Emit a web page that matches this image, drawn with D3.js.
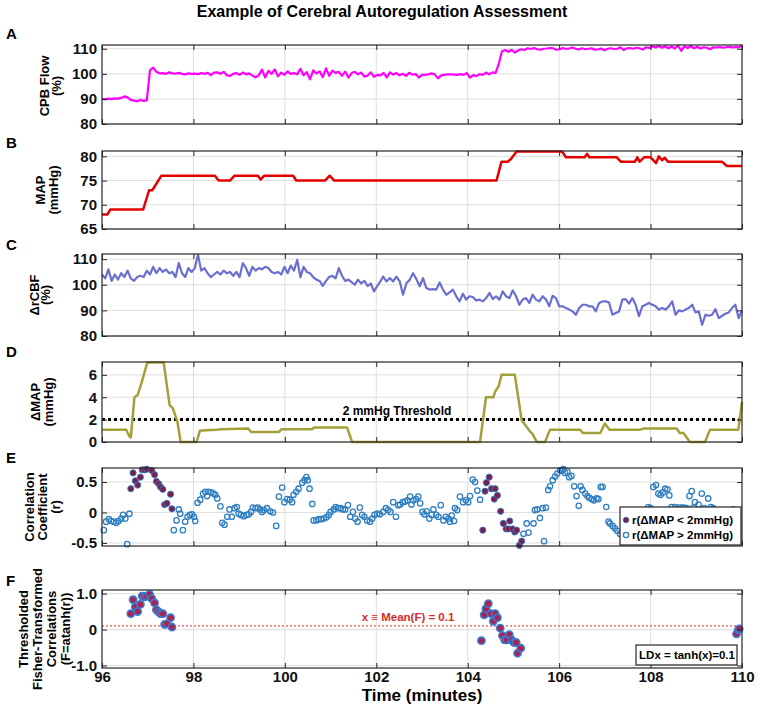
<!DOCTYPE html>
<html><head><meta charset="utf-8">
<script src="https://cdn.jsdelivr.net/npm/d3@7"></script>
<style>
body{margin:0;background:#fff}
text{font-family:"Liberation Sans",Arial,sans-serif;font-weight:bold}
</style>
</head><body><svg id="c" width="758" height="714"></svg>
<script>
// ---------------- DATA ----------------
const xTicks = [96,98,100,102,104,106,108,110];
const xTickLabels = ["96","98","100","102","104","106","108","110"];
const flowTicks = [80,90,100,110];
const mapTicks = [65,70,75,80];
const cbfTicks = [80,90,100,110];
const dmapTicks = [0,2,4,6];
const rTicks = [-0.5,0,0.5];
const rTickLabels = ["-0.5","0","0.5"];
const fTicks = [-1,0,1];
const fTickLabels = ["-1.0","0","1.0"];

// A: CPB flow (%), evenly sampled 96 -> 110 min
const cpbFlow = [
90,89.8,90.1,89.9,90.2,90.1,90.4,91,90.6,89.6,89.3,89.1,89.6,89.2,89.4,
101.5,102.5,100.8,100.2,100.3,100,100.6,100.2,100.1,100.4,100,99.8,100.2,100,
100.1,99.9,100.3,100,100.4,99.5,100.5,100.6,100,100.8,99.4,99.2,100,100.3,99.6,
100.5,99.8,100.2,99.3,98.6,99.5,101.7,98.5,101.2,100,101.8,99,100.5,99.6,101,
100,100.3,99.8,102,99.4,100.7,97.8,101.4,100.2,101,98.7,102.2,99.2,101.3,100.4,
100.8,99.2,100.9,98.5,100.3,100.8,99.8,100.5,98.9,99.3,100.6,98.8,99.6,99.4,100.4,
98.6,100.6,99.7,100.3,99.4,100,99.2,100.4,99.7,99.9,98.5,99.6,99.6,99.8,100.2,
99.7,98.2,99.4,99.6,99.8,99.8,99.7,99.6,99.9,99.6,100.3,98.5,99.5,99.1,99.9,
99.6,100.5,99.8,100.6,100.4,104,109,109.5,108.8,109.6,108.5,109.3,109.8,109.5,110.2,
109.9,110.3,109.8,109.6,110,110.1,110.3,110.2,109.6,109.8,110.3,109.9,110.1,110.5,110,
109.7,110.2,109.8,110,110.2,109.6,109.8,110.1,109.4,110,110.2,109.9,110,110.6,109.5,
110.2,110.3,110,110.4,110.2,109.7,110.6,110.3,111,110.5,111.2,110.4,111,110.2,110.9,
110.1,111.3,109.2,111,110.3,111.1,110.2,110.8,110.1,110.6,110.4,109.8,110.6,110.5,110.7,
110.4,110.6,110.8,110.5,110.7,110.6,111.3];

// B: MAP (mmHg) breakpoints
const mapTimes = [96.0,96.12,96.18,96.9,97.03,97.1,97.3,98.47,98.55,98.8,98.9,99.41,99.47,99.55,100.18,100.25,100.88,100.98,101.08,
104.63,104.74,104.88,104.95,105.07,106.06,106.15,106.56,106.61,106.66,107.26,107.35,107.66,107.71,107.76,107.86,108.0,108.12,108.18,108.25,108.31,108.38,109.56,109.67,110.0];
const mapValues = [68,68,69,69,73,73,76,76,75,75,76,76,75.2,76,76,75,75,76,75,
75,78.9,78.9,79.5,81,81,79.8,79.8,80.5,79.8,79.8,78.9,78.9,79.8,78.9,79.8,79.8,78.6,80,79.2,79.7,78.9,78.9,78,78];

// C: delta rCBF (%), segment 1 (96 -> 102.09) and segment 2 (102.15 -> 110), evenly sampled
const rcbfSeg1 = [
104,102.5,106,101.5,104,102,104.5,103,105.5,102.5,101.5,103,103.5,103,105.5,104,107,104.5,106.5,105,
106,104.5,105,103,108.5,104.5,103,106.5,105,106.5,111.7,105.5,106.5,104.5,103,104,105,104,105.5,104.5,
105,103.5,105,103,108.4,106.5,103.5,107,105.5,106.5,106,107,106.5,105,104.5,105,104,107,104.5,107.5,
105.5,109.7,103,107,105,104.5,103,102,101.5,99.6,101.5,103,103.5,102.5,106.5,103.5,101.5,102,101,100,
102,100.5,101.5,99.5,100.5,97.4,99.5,101.3];
const rcbfSeg2 = [
103.2,101.3,102.6,101.3,103.2,101.3,96.1,100.6,101.9,104.5,102.2,99.4,102.6,98.7,98.1,98.3,98.1,100.9,98.1,96.1,
97.0,98.1,95.5,93.5,96.5,94.2,95.5,95.2,93.9,94.2,93.5,94.8,96.8,94.4,95.5,94.2,97.4,95.5,94.8,97.8,
95.5,92.2,94.2,94.8,92.9,96.1,94.2,93.5,95.5,94.2,91.6,95.7,94.8,91.6,91.6,90.9,90.3,89.6,88.3,90.9,
92.2,92.2,91.6,91.6,89.6,92.9,93.5,93.5,93.1,88.3,89.0,89.6,94.2,94.4,92.6,94.8,92.2,87.7,91.6,92.2,
92.9,92.2,91.6,90.3,90.9,90.3,91.6,93.5,88.3,90.0,89.6,90.3,90.9,92.2,89.2,89.6,84.4,88.3,87.9,88.3,
90.5,87.0,87.9,88.7,89.2,90.9,92.2,87.0,90.0];

// D: delta MAP (mmHg) breakpoints
const dmapTimes = [96.0,96.53,96.6,96.63,96.71,96.78,96.88,96.99,97.35,97.42,97.48,97.55,97.65,97.72,98.07,98.14,98.26,98.52,98.6,99.2,99.26,99.87,99.93,100.6,100.64,101.36,101.47,
104.27,104.4,104.56,104.6,104.68,104.74,105.03,105.18,105.36,105.42,105.51,105.69,105.8,106.46,106.52,106.9,107.0,107.1,107.77,107.84,108.57,108.64,108.72,108.86,109.19,109.3,109.92,110.0];
const dmapValues = [1.1,1.1,0.5,0.4,4.0,4.2,5.5,7.1,7.1,5.0,3.3,3.0,1.8,0,0,1.0,1.05,1.1,1.15,1.2,0.9,0.9,1.15,1.15,1.3,1.3,0,
0,4.0,4.0,4.5,5.0,6.0,6.0,1.95,0.96,0.7,0,0,1.1,1.1,0.8,0.8,1.65,1.1,1.1,1.2,1.2,0.8,0.8,0,0,1.1,1.1,3.6];
const thresholdValue = 2;

// E: correlation coefficient r
const rLowTimes = [96.63,96.68,96.73,96.78,96.84,96.88,96.93,96.98,97.09,97.15,97.19,97.24,97.28,97.33,97.37,97.42,97.5,97.53,
104.33,104.38,104.41,104.47,104.52,104.58,104.6,104.65,104.72,104.78,104.84,104.89,104.92,104.98,105.03,105.07,105.13,105.18];
const rLowValues = [0.39,0.65,0.52,0.45,0.58,0.70,0.70,0.71,0.69,0.62,0.51,0.47,0.42,0.38,0.13,0.15,0.30,0.06,
-0.29,0.35,0.49,0.58,0.39,0.22,0.39,0.28,0.02,-0.18,-0.27,-0.27,-0.14,-0.27,-0.32,-0.29,-0.54,-0.47];
const rHighTimes = [96.04,96.09,96.15,96.2,96.26,96.31,96.36,96.42,96.46,96.51,96.55,96.6,
97.57,97.63,97.68,97.71,97.77,97.82,97.87,97.92,97.97,98.01,98.04,98.09,98.15,98.21,98.26,98.3,98.33,98.39,98.44,98.48,98.52,98.59,98.63,98.68,98.74,98.79,98.84,98.9,98.95,98.99,
99.04,99.1,99.16,99.21,99.26,99.3,99.36,99.41,99.46,99.5,99.54,99.61,99.68,99.74,99.81,99.87,99.94,99.99,
100.05,100.11,100.16,100.19,100.25,100.3,100.38,100.43,100.47,100.5,100.54,100.6,100.63,100.69,100.74,100.79,100.85,100.91,100.96,101.0,101.07,101.11,101.16,101.22,101.27,101.32,101.38,101.43,101.49,101.54,101.59,101.64,101.69,101.74,101.8,101.86,101.91,101.96,102.02,
102.08,102.15,102.21,102.26,102.31,102.37,102.43,102.48,102.52,102.58,102.63,102.68,102.74,102.77,102.81,102.87,102.92,102.96,103.01,103.05,103.1,103.16,103.21,103.25,103.31,103.36,103.41,103.47,103.52,103.58,103.61,103.65,103.7,103.72,103.77,103.83,103.9,103.96,
104.01,104.05,104.11,104.16,104.21,104.27,105.22,105.29,105.33,105.44,105.47,105.52,105.58,105.64,105.67,105.71,105.76,105.8,105.86,105.91,105.96,
106.02,106.06,106.09,106.13,106.18,106.22,106.27,106.33,106.38,106.43,106.47,106.51,106.57,106.62,106.66,106.71,106.76,106.82,106.86,106.91,106.95,
107.03,107.08,107.11,107.17,107.22,107.27,107.33,107.4,107.5,107.6,107.7,107.8,107.95,
108.0,108.06,108.12,108.17,108.22,108.27,108.32,108.37,108.41,108.46,108.53,108.61,108.68,108.73,108.79,108.85,108.9,108.94,108.97,
109.05,109.12,109.17,109.26,109.32,109.37,109.81];
const rHighValues = [-0.29,-0.15,-0.11,-0.14,-0.15,-0.17,-0.14,-0.10,-0.04,-0.10,-0.52,-0.02,
-0.29,-0.13,0.05,-0.02,-0.29,-0.15,-0.07,-0.04,-0.03,-0.07,-0.14,0.16,0.21,0.31,0.34,0.27,0.34,0.33,0.31,0.29,0.23,0.10,-0.17,-0.20,-0.07,0.05,-0.07,0.07,0.09,-0.02,
-0.04,-0.06,-0.04,-0.03,0.01,0.08,0.07,0.08,0.05,0.01,0.04,0.07,0.02,0.00,-0.22,0.26,0.41,0.17,
0.22,0.21,0.17,0.29,0.34,0.39,0.49,0.53,0.58,0.53,0.39,0.14,-0.13,-0.13,-0.11,-0.11,-0.10,-0.08,-0.04,0.01,0.05,0.09,0.07,0.07,0.05,0.05,0.12,-0.07,0.01,-0.10,-0.15,0.08,-0.04,-0.07,-0.13,-0.15,-0.10,-0.04,-0.02,
-0.03,0.01,0.07,0.04,0.01,0.17,-0.07,0.12,0.13,0.17,0.18,0.20,0.26,0.13,0.20,0.22,0.26,0.15,0.01,-0.03,0.02,-0.10,-0.04,0.05,-0.04,-0.07,0.12,-0.13,-0.07,-0.10,-0.15,-0.05,-0.14,0.07,0.04,0.26,0.17,0.20,
0.17,0.27,0.54,0.50,0.36,0.21,-0.35,-0.18,-0.33,-0.18,0.04,0.05,-0.09,0.07,-0.47,0.08,0.37,0.43,0.53,0.59,0.64,
0.69,0.69,0.71,0.65,0.67,0.58,0.60,0.43,0.27,0.11,0.43,0.37,0.31,0.27,0.24,0.22,0.20,0.23,0.22,0.42,0.42,
0.09,-0.15,-0.18,-0.22,-0.26,-0.30,-0.35,-0.38,-0.30,-0.22,-0.12,-0.04,0.09,
0.07,0.42,0.45,0.31,0.29,0.33,0.39,0.38,0.28,0.09,0.09,0.08,0.08,0.08,0.07,0.27,0.35,0.08,0.17,
0.13,0.31,0.07,0.23,0.09,0.07,0.05];

// F: thresholded Fisher-transformed correlations
const fTimes = [96.63,96.68,96.73,96.78,96.84,96.88,96.93,96.98,97.04,97.09,97.15,97.19,97.24,97.28,97.33,97.37,97.42,97.5,97.53,
104.3,104.36,104.4,104.45,104.51,104.56,104.6,104.65,104.71,104.76,104.81,104.85,104.91,104.96,105.01,105.06,105.09,105.16,
109.88,109.92,109.94];
const fValues = [0.44,0.83,0.63,0.50,0.70,0.93,0.91,0.93,0.98,0.86,0.74,0.55,0.49,0.44,0.44,0.14,0.16,0.33,0.07,
-0.31,0.41,0.58,0.72,0.44,0.23,0.44,0.33,0.04,-0.17,-0.29,-0.29,-0.14,-0.29,-0.36,-0.36,-0.66,-0.52,
-0.12,-0.01,0.02];
const meanF = 0.1;

// ---------------- DRAWING ----------------
const svg = d3.select("#c");
const L = 102, R = 742;
const x = d3.scaleLinear().domain([96,110]).range([L,R]);

svg.append("text").attr("x",382).attr("y",17).attr("text-anchor","middle")
  .attr("font-size",16).text("Example of Cerebral Autoregulation Assessment");

function makePanel(top,bottom,domain,ticks){
  const y = d3.scaleLinear().domain(domain).range([bottom,top]);
  const g = svg.append("g");
  g.append("g").selectAll("line").data(xTicks.slice(1,-1)).join("line")
    .attr("x1",d=>x(d)).attr("x2",d=>x(d)).attr("y1",top).attr("y2",bottom)
    .attr("stroke","#dedede").attr("stroke-width",1);
  g.append("g").selectAll("line").data(ticks).join("line")
    .attr("x1",L).attr("x2",R).attr("y1",d=>y(d)).attr("y2",d=>y(d))
    .attr("stroke","#dedede").attr("stroke-width",1);
  return {y,top,bottom,g:svg.append("g")};
}
function frame(p,ticks,labels,showX){
  const g = svg.append("g");
  const ax = d3.axisLeft(p.y).tickValues(ticks).tickSize(-5).tickPadding(5)
     .tickFormat((d,i)=>labels[i]);
  g.append("g").attr("transform",`translate(${L},0)`).call(ax)
    .call(s=>s.select(".domain").remove())
    .call(s=>s.selectAll("line").attr("stroke","#262626"))
    .call(s=>s.selectAll("text").attr("font-size",15).attr("fill","#111")
      .attr("font-family",'"Liberation Sans",Arial,sans-serif'));
  g.append("g").attr("transform",`translate(${R},0)`)
    .call(d3.axisRight(p.y).tickValues(ticks).tickSize(-5).tickFormat(""))
    .call(s=>s.select(".domain").remove())
    .call(s=>s.selectAll("line").attr("stroke","#262626"));
  g.append("g").attr("transform",`translate(0,${p.top})`)
    .call(d3.axisTop(x).tickValues(xTicks).tickSize(-5).tickFormat(""))
    .call(s=>s.select(".domain").remove())
    .call(s=>s.selectAll("line").attr("stroke","#262626"));
  g.append("g").attr("transform",`translate(0,${p.bottom})`)
    .call(d3.axisBottom(x).tickValues(xTicks).tickSize(-5).tickPadding(3)
      .tickFormat((d,i)=>showX?xTickLabels[i]:""))
    .call(s=>s.select(".domain").remove())
    .call(s=>s.selectAll("line").attr("stroke","#262626"))
    .call(s=>s.selectAll("text").attr("font-size",15).attr("fill","#111")
      .attr("font-family",'"Liberation Sans",Arial,sans-serif'));
  g.append("rect").attr("x",L).attr("y",p.top).attr("width",R-L).attr("height",p.bottom-p.top)
    .attr("fill","none").attr("stroke","#262626").attr("stroke-width",1.2);
}
function ylabel(lines,baseX,cy,step){
  const n = lines.length;
  lines.forEach((t,i)=>{
    svg.append("text").attr("transform",`translate(${baseX - (n-1-i)*step},${cy}) rotate(-90)`)
      .attr("text-anchor","middle").attr("font-size",13).text(t);
  });
}
function letter(t,y){ svg.append("text").attr("x",6).attr("y",y).attr("font-size",15).text(t); }

// Panel A
const pA = makePanel(45,124,[80,111.5],flowTicks);
pA.g.append("path").datum(cpbFlow)
  .attr("d",d3.line().x((d,i)=>x(96+14*i/(cpbFlow.length-1))).y(d=>pA.y(d)))
  .attr("fill","none").attr("stroke","#ff00ff").attr("stroke-width",2.2).attr("stroke-linejoin","round");
frame(pA,flowTicks,flowTicks.map(String),false);
letter("A",39); ylabel(["CPB Flow","(%)"],61,86,12);

// Panel B
const pB = makePanel(151,229,[65,81.1],mapTicks);
pB.g.append("path").datum(mapTimes.map((t,i)=>[t,mapValues[i]]))
  .attr("d",d3.line().x(d=>x(d[0])).y(d=>pB.y(d[1])))
  .attr("fill","none").attr("stroke","#e30000").attr("stroke-width",2.5).attr("stroke-linejoin","round");
frame(pB,mapTicks,mapTicks.map(String),false);
letter("B",148); ylabel(["MAP","(mmHg)"],58,190,13);

// Panel C
const pC = makePanel(254,336,[80,112],cbfTicks);
const s1 = d3.scaleLinear().domain([0,rcbfSeg1.length-1]).range([96,102.09]);
const s2 = d3.scaleLinear().domain([0,rcbfSeg2.length-1]).range([102.15,110]);
const cbfPts = rcbfSeg1.map((v,i)=>[s1(i),v]).concat(rcbfSeg2.map((v,i)=>[s2(i),v]));
pC.g.append("path").datum(cbfPts)
  .attr("d",d3.line().x(d=>x(d[0])).y(d=>pC.y(d[1])))
  .attr("fill","none").attr("stroke","#6a6fcf").attr("stroke-width",2.2).attr("stroke-linejoin","round");
frame(pC,cbfTicks,cbfTicks.map(String),false);
letter("C",250); ylabel(["\u0394rCBF","(%)"],50,295,11);

// Panel D
const pD = makePanel(362,442,[0,7.15],dmapTicks);
pD.g.append("line").attr("x1",L).attr("x2",R).attr("y1",pD.y(thresholdValue)).attr("y2",pD.y(thresholdValue))
  .attr("stroke","#000").attr("stroke-width",3).attr("stroke-dasharray","3,3");
pD.g.append("text").attr("x",397).attr("y",pD.y(thresholdValue)-5).attr("text-anchor","middle")
  .attr("font-size",12).text("2 mmHg Threshold");
pD.g.append("path").datum(dmapTimes.map((t,i)=>[t,dmapValues[i]]))
  .attr("d",d3.line().x(d=>x(d[0])).y(d=>pD.y(d[1])))
  .attr("fill","none").attr("stroke","#a3a03a").attr("stroke-width",2.5).attr("stroke-linejoin","round");
frame(pD,dmapTicks,dmapTicks.map(String),false);
letter("D",357); ylabel(["\u0394MAP","(mmHg)"],53,402,13);

// Panel E
const pE = makePanel(468,546,[-0.55,0.73],rTicks);
pE.g.append("g").selectAll("circle").data(rHighTimes.map((t,i)=>[t,rHighValues[i]])).join("circle")
  .attr("cx",d=>x(d[0])).attr("cy",d=>pE.y(d[1])).attr("r",2.7)
  .attr("fill","none").attr("stroke","#2f7fc1").attr("stroke-width",1.3);
pE.g.append("g").selectAll("circle").data(rLowTimes.map((t,i)=>[t,rLowValues[i]])).join("circle")
  .attr("cx",d=>x(d[0])).attr("cy",d=>pE.y(d[1])).attr("r",3.1)
  .attr("fill","#7b1e4e").attr("stroke","#2f7fc1").attr("stroke-width",0.9);
frame(pE,rTicks,rTickLabels,false);
const lg = svg.append("g");
lg.append("rect").attr("x",620).attr("y",507).attr("width",121).attr("height",38)
  .attr("fill","#fff").attr("stroke","#262626").attr("stroke-width",1.2);
lg.append("circle").attr("cx",626).attr("cy",520).attr("r",2.8).attr("fill","#7b1e4e").attr("stroke","#2f7fc1").attr("stroke-width",0.9);
lg.append("circle").attr("cx",626).attr("cy",535).attr("r",2.6).attr("fill","none").attr("stroke","#2f7fc1").attr("stroke-width",1.3);
lg.append("text").attr("x",632).attr("y",524).attr("font-size",11.5).text("r(\u0394MAP < 2mmHg)");
lg.append("text").attr("x",632).attr("y",539).attr("font-size",11.5).text("r(\u0394MAP > 2mmHg)");
letter("E",463); ylabel(["Correlation","Coefficient","(r)"],60,507,13);

// Panel F
const pF = makePanel(590,668,[-1.07,1.1],fTicks);
pF.g.append("line").attr("x1",L).attr("x2",R).attr("y1",pF.y(meanF)).attr("y2",pF.y(meanF))
  .attr("stroke","#d42a2a").attr("stroke-width",1).attr("stroke-dasharray","2,2");
pF.g.append("text").attr("x",408).attr("y",621).attr("text-anchor","middle").attr("fill","#d42a2a")
  .attr("font-size",11.5).text("x \u2261 Mean(F) = 0.1");
pF.g.append("g").selectAll("circle").data(fTimes.map((t,i)=>[t,fValues[i]])).join("circle")
  .attr("cx",d=>x(d[0])).attr("cy",d=>pF.y(d[1])).attr("r",3.6)
  .attr("fill","#a8234f").attr("stroke","#3a7bd0").attr("stroke-width",1.6);
frame(pF,fTicks,fTickLabels,true);
const lf = svg.append("g");
lf.append("rect").attr("x",636).attr("y",645).attr("width",101).attr("height",20)
  .attr("fill","#fff").attr("stroke","#262626").attr("stroke-width",1.2);
lf.append("text").attr("x",687).attr("y",659).attr("text-anchor","middle").attr("font-size",11.5).text("LDx = tanh(x)=0.1");
letter("F",586); ylabel(["Thresholded","Fisher-Transformed","Correlations","(F=atanh(r))"],70,629,14);

svg.append("text").attr("x",422).attr("y",701).attr("text-anchor","middle").attr("font-size",17).text("Time (minutes)");
</script>
</body></html>
